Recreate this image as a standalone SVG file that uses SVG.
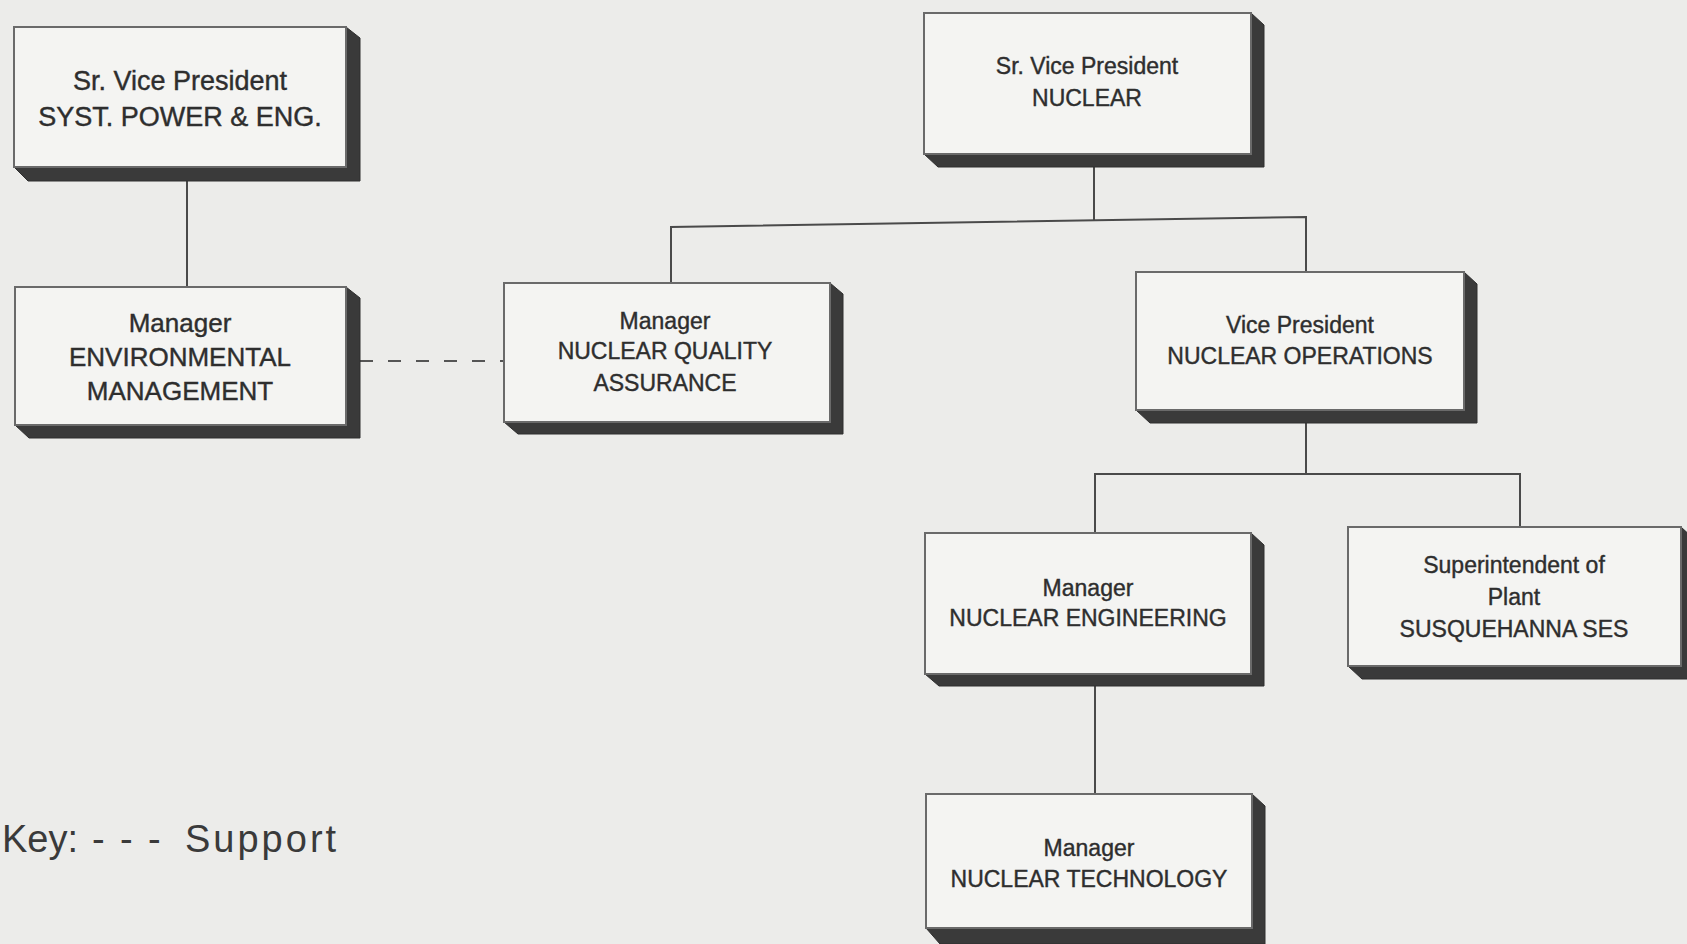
<svg xmlns="http://www.w3.org/2000/svg" width="1687" height="944" viewBox="0 0 1687 944">
<defs>
<style>
.box{fill:#f4f4f2;stroke:#6a6a6a;stroke-width:2}
.sh{fill:#3a3a3a;stroke:#2e2e2e;stroke-width:1}
.t{font-family:"Liberation Sans",Arial,sans-serif;fill:#2e2e2e;text-anchor:middle;stroke:#2e2e2e;stroke-width:0.4}
.c{stroke:#4a4a4a;stroke-width:2;fill:none}
.d{stroke:#555;stroke-width:2;fill:none;stroke-dasharray:13 15}
.k{font-family:"Liberation Sans",Arial,sans-serif;fill:#3a3a3a;font-size:38px;letter-spacing:3px}
</style>
</defs>
<rect width="1687" height="944" fill="#ececea"/>
<g id="connectors">
<line class="c" x1="187" y1="180" x2="187" y2="287"/>
<line class="c" x1="1094" y1="167" x2="1094" y2="221"/>
<polyline class="c" points="671,283 671,227 1306,217 1306,272"/>
<line class="c" x1="1306" y1="422" x2="1306" y2="474"/>
<polyline class="c" points="1095,533 1095,474 1520,474 1520,527"/>
<line class="c" x1="1095" y1="686" x2="1095" y2="794"/>
<line class="d" x1="360" y1="361" x2="504" y2="361"/>
</g>
<g id="n-svp-syst">
<polygon class="sh" points="346,27 360,38 360,181 28,181 14,167 346,167"/>
<rect class="box" x="14" y="27" width="332" height="140"/>
<text class="t" font-size="27"><tspan x="180" y="90">Sr. Vice President</tspan><tspan x="180" y="126">SYST. POWER &amp; ENG.</tspan></text>
</g>
<g id="n-svp-nuclear">
<polygon class="sh" points="1251,13 1264,25 1264,167 938,167 924,154 1251,154"/>
<rect class="box" x="924" y="13" width="327" height="141"/>
<text class="t" font-size="23"><tspan x="1087" y="74">Sr. Vice President</tspan><tspan x="1087" y="106">NUCLEAR</tspan></text>
</g>
<g id="n-env">
<polygon class="sh" points="346,287 360,298 360,438 29,438 15,425 346,425"/>
<rect class="box" x="15" y="287" width="331" height="138"/>
<text class="t" font-size="26"><tspan x="180" y="332">Manager</tspan><tspan x="180" y="366">ENVIRONMENTAL</tspan><tspan x="180" y="400">MANAGEMENT</tspan></text>
</g>
<g id="n-nqa">
<polygon class="sh" points="830,283 843,294 843,434 518,434 504,422 830,422"/>
<rect class="box" x="504" y="283" width="326" height="139"/>
<text class="t" font-size="23"><tspan x="665" y="329">Manager</tspan><tspan x="665" y="359">NUCLEAR QUALITY</tspan><tspan x="665" y="391">ASSURANCE</tspan></text>
</g>
<g id="n-vp-ops">
<polygon class="sh" points="1464,272 1477,284 1477,423 1150,423 1136,410 1464,410"/>
<rect class="box" x="1136" y="272" width="328" height="138"/>
<text class="t" font-size="23"><tspan x="1300" y="333">Vice President</tspan><tspan x="1300" y="364">NUCLEAR OPERATIONS</tspan></text>
</g>
<g id="n-eng">
<polygon class="sh" points="1251,533 1264,545 1264,686 939,686 925,674 1251,674"/>
<rect class="box" x="925" y="533" width="326" height="141"/>
<text class="t" font-size="23"><tspan x="1088" y="596">Manager</tspan><tspan x="1088" y="626">NUCLEAR ENGINEERING</tspan></text>
</g>
<g id="n-supt">
<polygon class="sh" points="1681,527 1694,539 1694,679 1362,679 1348,666 1681,666"/>
<rect class="box" x="1348" y="527" width="333" height="139"/>
<text class="t" font-size="23"><tspan x="1514" y="573">Superintendent of</tspan><tspan x="1514" y="605">Plant</tspan><tspan x="1514" y="637">SUSQUEHANNA SES</tspan></text>
</g>
<g id="n-tech">
<polygon class="sh" points="1252,794 1265,806 1265,944 940,944 926,928 1252,928"/>
<rect class="box" x="926" y="794" width="326" height="134"/>
<text class="t" font-size="23"><tspan x="1089" y="856">Manager</tspan><tspan x="1089" y="887">NUCLEAR TECHNOLOGY</tspan></text>
</g>
<g id="key">
<text class="k"><tspan x="2" y="852" letter-spacing="0">Key:</tspan><tspan x="92" y="852">-</tspan><tspan x="120" y="852">-</tspan><tspan x="148" y="852">-</tspan><tspan x="185" y="852">Support</tspan></text>
</g>
</svg>
